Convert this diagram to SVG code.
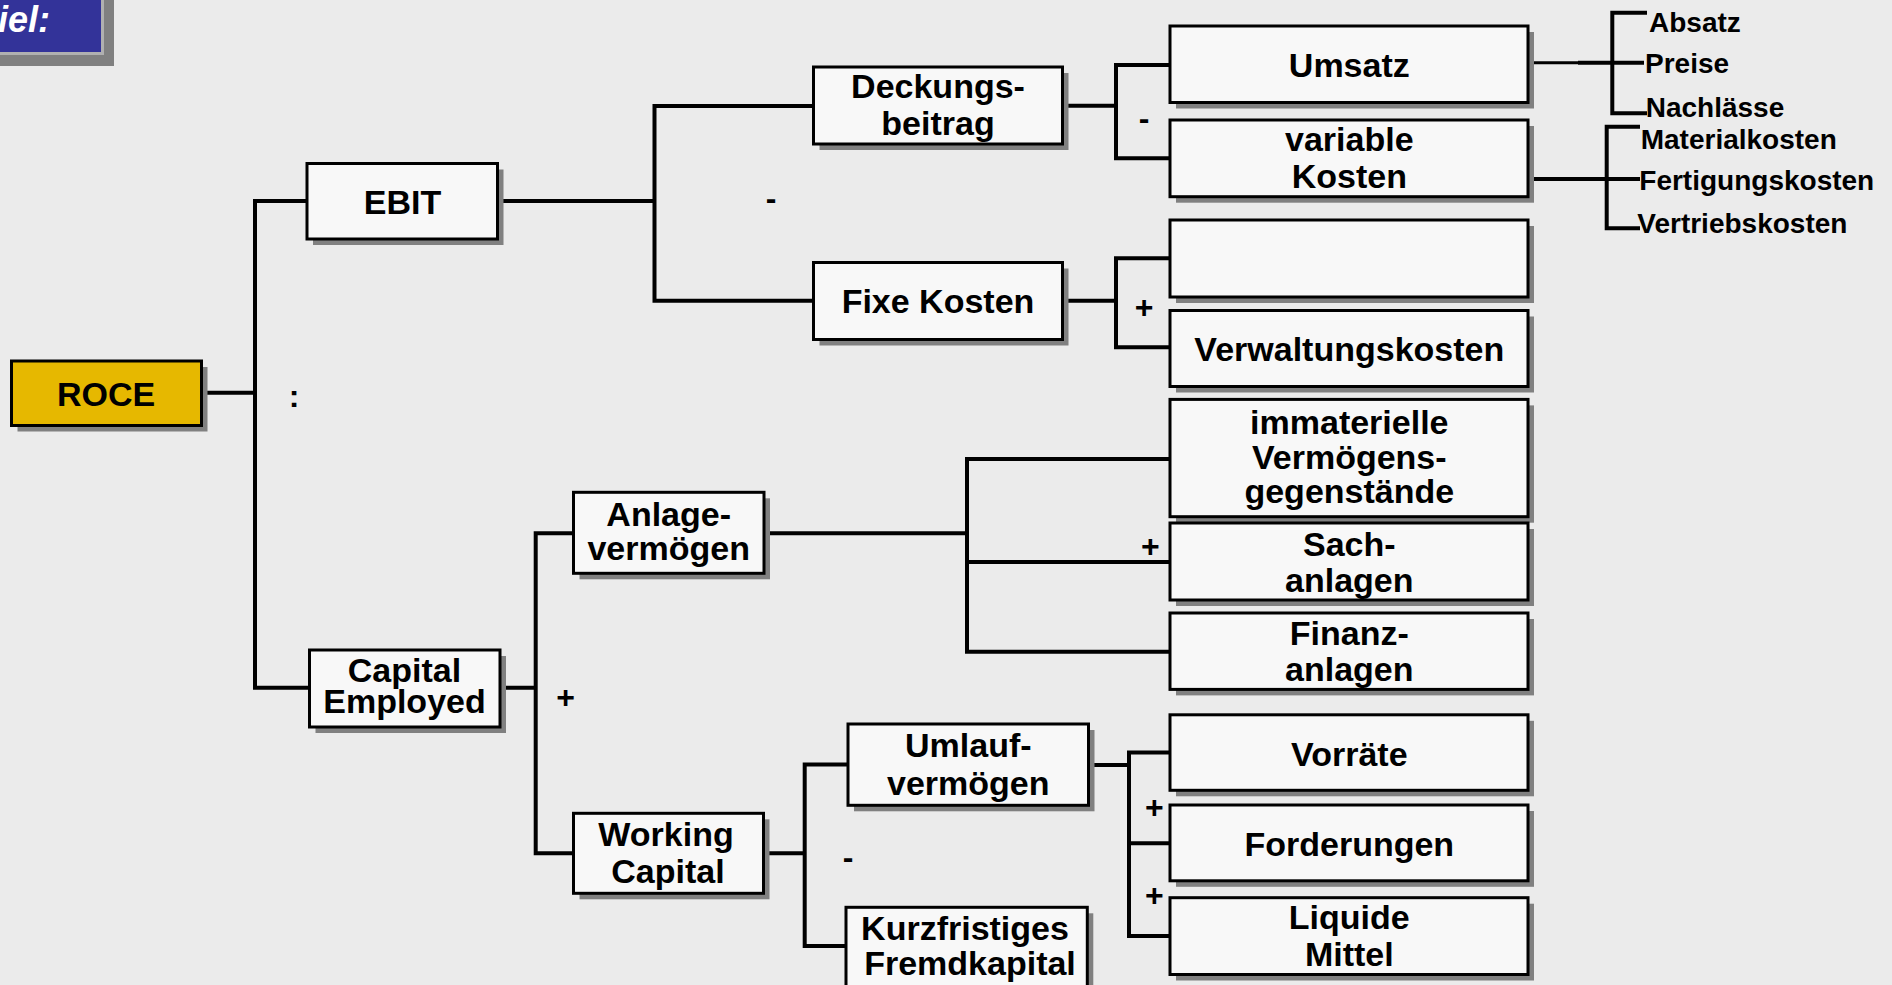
<svg xmlns="http://www.w3.org/2000/svg" width="1892" height="985" viewBox="0 0 1892 985">
<style>
.bg{fill:#ebebeb}
.sh{fill:#808080}
.bx{fill:#f8f8f8;stroke:#000;stroke-width:3}
.roce{fill:#e6b800;stroke:#000;stroke-width:3}
.t{font-family:"Liberation Sans",Arial,sans-serif;font-weight:bold;font-size:34px;fill:#000;text-anchor:middle}
.op{font-family:"Liberation Sans",Arial,sans-serif;font-weight:bold;font-size:32px;fill:#000;text-anchor:middle}
.lt{font-family:"Liberation Sans",Arial,sans-serif;font-weight:bold;font-size:28px;fill:#000}
.c{fill:none;stroke:#000;stroke-width:4;stroke-linejoin:miter;stroke-linecap:butt}
.ct{fill:none;stroke:#000;stroke-width:3}
</style>
<rect class="bg" x="0" y="0" width="1892" height="985"/>

<g id="header">
<rect class="sh" x="-10" y="-10" width="124" height="76"/>
<rect x="-10" y="-10" width="112.5" height="63.5" fill="#333399" stroke="#b0b0b0" stroke-width="3"/>
<text x="-2" y="32" font-family="Liberation Sans,Arial,sans-serif" font-weight="bold" font-style="italic" font-size="36" fill="#ffffff">iel:</text>
</g>

<g id="connectors">
<path class="c" d="M201.5 392.7 H255 M307 201 H255 V687.7 H309.5"/>
<path class="c" d="M497.5 201 H654.5 M813.5 106 H654.5 V300.7 H813.5"/>
<path class="c" d="M1062.5 105.7 H1116 M1170 65 H1116 V158.3 H1170"/>
<path class="c" d="M1062.5 300.7 H1116 M1170 258.3 H1116 V347.3 H1170"/>
<path class="c" d="M500 687.7 H535.7 M573.5 533.3 H535.7 V853.3 H573.5"/>
<path class="c" d="M764 533.3 H967 M1170 459 H967 V651.7 H1170 M967 562 H1170"/>
<path class="c" d="M763.5 853.3 H804.7 M848 764.5 H804.7 V946 H846"/>
<path class="c" d="M1088.5 765 H1129 M1170 752.5 H1129 V936 H1170 M1129 843.3 H1170"/>
<path class="ct" d="M1533 62.7 H1578"/>
<path class="c" d="M1578 62.7 H1644 M1647 12.7 H1612.3 V113.3 H1647"/>
<path class="c" d="M1531 179 H1640 M1640 126.7 H1606.7 V228.3 H1640"/>
</g>

<g id="operators">
<text class="op" x="294" y="407">:</text>
<text class="op" x="771" y="209">-</text>
<text class="op" x="1144" y="129">-</text>
<text class="op" x="1144" y="318">+</text>
<text class="op" x="565.5" y="708">+</text>
<text class="op" x="1150.3" y="557">+</text>
<text class="op" x="848" y="867.6">-</text>
<text class="op" x="1154.3" y="818">+</text>
<text class="op" x="1154.3" y="905.7">+</text>
</g>

<g id="roce">
<rect class="sh" x="17.5" y="367" width="190" height="64.5"/>
<rect class="roce" x="11.5" y="361" width="190" height="64.5"/>
<text class="t" x="106" y="406">ROCE</text>
</g>

<g id="ebit">
<rect class="sh" x="313" y="169.5" width="190.5" height="75.5"/>
<rect class="bx" x="307" y="163.5" width="190.5" height="75.5"/>
<text class="t" x="402.5" y="213.5">EBIT</text>
</g>

<g id="capital-employed">
<rect class="sh" x="315.5" y="656" width="190.5" height="77"/>
<rect class="bx" x="309.5" y="650" width="190.5" height="77"/>
<text class="t" x="404.5" y="681.7">Capital</text>
<text class="t" x="404.5" y="713.3">Employed</text>
</g>

<g id="deckungsbeitrag">
<rect class="sh" x="819.5" y="73" width="249" height="77"/>
<rect class="bx" x="813.5" y="67" width="249" height="77"/>
<text class="t" x="938" y="98.3">Deckungs-</text>
<text class="t" x="938" y="135">beitrag</text>
</g>

<g id="fixe-kosten">
<rect class="sh" x="819.5" y="268.5" width="249" height="77"/>
<rect class="bx" x="813.5" y="262.5" width="249" height="77"/>
<text class="t" x="938" y="313.3">Fixe Kosten</text>
</g>

<g id="umsatz">
<rect class="sh" x="1176" y="32" width="358" height="76.5"/>
<rect class="bx" x="1170" y="26" width="358" height="76.5"/>
<text class="t" x="1349.3" y="77.3">Umsatz</text>
</g>

<g id="variable-kosten">
<rect class="sh" x="1176" y="126" width="358" height="76.7"/>
<rect class="bx" x="1170" y="120" width="358" height="76.7"/>
<text class="t" x="1349.3" y="151">variable</text>
<text class="t" x="1349.3" y="188.3">Kosten</text>
</g>

<g id="leer">
<rect class="sh" x="1176" y="226" width="358" height="77"/>
<rect class="bx" x="1170" y="220" width="358" height="77"/>
</g>

<g id="verwaltungskosten">
<rect class="sh" x="1176" y="316.5" width="358" height="76"/>
<rect class="bx" x="1170" y="310.5" width="358" height="76"/>
<text class="t" x="1349.3" y="360.7">Verwaltungskosten</text>
</g>

<g id="immaterielle">
<rect class="sh" x="1176" y="405.4" width="358" height="117.3"/>
<rect class="bx" x="1170" y="399.4" width="358" height="117.3"/>
<text class="t" x="1349.3" y="434">immaterielle</text>
<text class="t" x="1349.3" y="468.7">Vermögens-</text>
<text class="t" x="1349.3" y="502.7">gegenstände</text>
</g>

<g id="sachanlagen">
<rect class="sh" x="1176" y="529" width="358" height="77"/>
<rect class="bx" x="1170" y="523" width="358" height="77"/>
<text class="t" x="1349.3" y="555.5">Sach-</text>
<text class="t" x="1349.3" y="592.2">anlagen</text>
</g>

<g id="finanzanlagen">
<rect class="sh" x="1176" y="619" width="358" height="76.4"/>
<rect class="bx" x="1170" y="613" width="358" height="76.4"/>
<text class="t" x="1349.3" y="645.4">Finanz-</text>
<text class="t" x="1349.3" y="681">anlagen</text>
</g>

<g id="vorraete">
<rect class="sh" x="1176" y="720.8" width="358" height="75.5"/>
<rect class="bx" x="1170" y="714.8" width="358" height="75.5"/>
<text class="t" x="1349.3" y="765.5">Vorräte</text>
</g>

<g id="forderungen">
<rect class="sh" x="1176" y="811" width="358" height="75.8"/>
<rect class="bx" x="1170" y="805" width="358" height="75.8"/>
<text class="t" x="1349.3" y="855.5">Forderungen</text>
</g>

<g id="liquide-mittel">
<rect class="sh" x="1176" y="903.7" width="358" height="76.8"/>
<rect class="bx" x="1170" y="897.7" width="358" height="76.8"/>
<text class="t" x="1349.3" y="928.5">Liquide</text>
<text class="t" x="1349.3" y="965.5">Mittel</text>
</g>

<g id="anlagevermoegen">
<rect class="sh" x="579.5" y="498.3" width="190.5" height="81"/>
<rect class="bx" x="573.5" y="492.3" width="190.5" height="81"/>
<text class="t" x="668.7" y="526">Anlage-</text>
<text class="t" x="668.7" y="560">vermögen</text>
</g>

<g id="working-capital">
<rect class="sh" x="579.5" y="819.3" width="190" height="80"/>
<rect class="bx" x="573.5" y="813.3" width="190" height="80"/>
<text class="t" x="666" y="845.7">Working</text>
<text class="t" x="668" y="883.3">Capital</text>
</g>

<g id="umlaufvermoegen">
<rect class="sh" x="854" y="730" width="240.5" height="81.3"/>
<rect class="bx" x="848" y="724" width="240.5" height="81.3"/>
<text class="t" x="968.3" y="757.3">Umlauf-</text>
<text class="t" x="968.3" y="795">vermögen</text>
</g>

<g id="kurzfristiges-fremdkapital">
<rect class="sh" x="852" y="913.3" width="241.3" height="100"/>
<rect class="bx" x="846" y="907.3" width="241.3" height="100"/>
<text class="t" x="965" y="940">Kurzfristiges</text>
<text class="t" x="970" y="975">Fremdkapital</text>
</g>

<g id="umsatz-details">
<text class="lt" x="1649" y="32.3">Absatz</text>
<text class="lt" x="1645" y="73.3">Preise</text>
<text class="lt" x="1645.7" y="117.3">Nachlässe</text>
</g>

<g id="kosten-details">
<text class="lt" x="1640.7" y="149">Materialkosten</text>
<text class="lt" x="1639.3" y="190">Fertigungskosten</text>
<text class="lt" x="1637.3" y="233.3">Vertriebskosten</text>
</g>
</svg>
